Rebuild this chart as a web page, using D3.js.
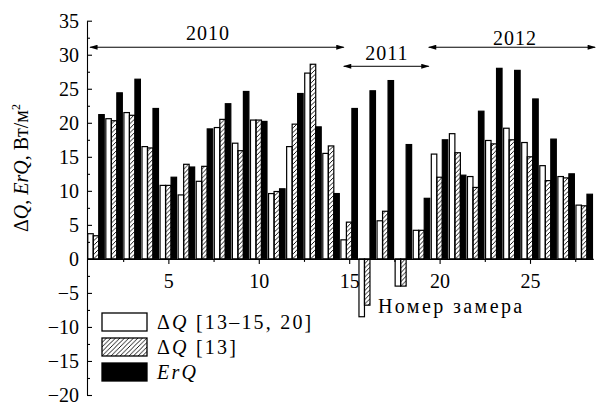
<!DOCTYPE html>
<html>
<head>
<meta charset="utf-8">
<script src="https://cdn.jsdelivr.net/npm/d3@7"></script>
<style>
  body { margin: 0; background: #fff; }
  svg text { font-family: "Liberation Serif", "Times New Roman", Times, Tinos, "DejaVu Serif", "Noto Serif", FreeSerif, serif !important; fill: #000; }
</style>
</head>
<body>
<div id="chart"></div>
<script>
// measurement numbers
const measures = [1, 2, 3, 4, 5, 6, 7, 8, 9, 10, 11, 12, 13, 14, 15, 16, 17, 18, 19, 20, 21, 22, 23, 24, 25, 26, 27, 28];

// ΔQ [13–15, 20] (white bars)
const dQrefs = [3.7, 20.6, 21.5, 16.5, 10.8, 9.4, 11.4, 19.3, 17.0, 20.4, 9.6, 16.5, 27.3, 15.5, 2.8, -8.5, 5.6, -4.0, 4.2, 15.4, 18.4, 12.1, 17.4, 19.2, 17.1, 13.7, 12.1, 7.9];
// ΔQ [13] (hatched bars)
const dQ13 = [3.4, 20.3, 21.1, 16.3, 10.8, 13.9, 13.6, 20.5, 15.9, 20.4, 9.9, 19.8, 28.6, 16.6, 5.4, -6.8, 7.0, -4.0, 4.2, 12.0, 15.6, 10.5, 16.9, 17.5, 15.0, 11.5, 11.9, 7.8];
// ErQ (black bars)
const erQ = [21.2, 24.4, 26.4, 22.1, 12.0, 13.5, 19.1, 22.8, 24.6, 20.2, 10.3, 24.3, 19.4, 9.6, 22.1, 24.7, 26.2, 16.8, 8.9, 17.5, 12.3, 21.7, 28.0, 27.7, 23.5, 17.6, 12.5, 9.5];

const yTicks = [-20, -15, -10, -5, 0, 5, 10, 15, 20, 25, 30, 35];
const xTicks = [5, 10, 15, 20, 25];

// year periods (in measurement numbers / y values)
const years = ["2010", "2011", "2012"];
const yearFrom = [0.67, 14.7, 19.4];
const yearTo = [14.7, 19.4, 28.6];
const yearLevel = [31.1, 28.3, 31.1];

const width = 597, height = 405;

const svg = d3.select("#chart").append("svg")
    .attr("width", width)
    .attr("height", height);

svg.append("rect").attr("width", width).attr("height", height).attr("fill", "#fff");

const x = d3.scaleLinear().domain([0.5, 28.5]).range([87, 593.3]);
const y = d3.scaleLinear().domain([-20, 35]).range([395, 20.7]);

const series = ["a", "b", "c"];
const sub = d3.scaleBand().domain(series).range([-8.3, 8.2]).padding(0);

// hatch pattern
const defs = svg.append("defs");
defs.append("pattern")
    .attr("id", "hatch")
    .attr("patternUnits", "userSpaceOnUse")
    .attr("width", 4.5)
    .attr("height", 4.5)
    .append("path")
    .attr("d", "M-1,1 L1,-1 M0,4.5 L4.5,0 M3.5,5.5 L5.5,3.5")
    .attr("stroke", "#000")
    .attr("stroke-width", 0.9);

defs.append("marker")
    .attr("id", "arrow")
    .attr("viewBox", "0 -3 10 6")
    .attr("refX", 9)
    .attr("refY", 0)
    .attr("markerUnits", "userSpaceOnUse")
    .attr("markerWidth", 9)
    .attr("markerHeight", 5)
    .attr("orient", "auto-start-reverse")
    .append("path")
    .attr("d", "M0,-3L10,0L0,3Z")
    .attr("fill", "#000");

// bars
const rows = measures.map((m, i) => ({ m, a: dQrefs[i], b: dQ13[i], c: erQ[i] }));
const fills = { a: "#fff", b: "url(#hatch)", c: "#000" };

const groups = svg.selectAll(".grp")
    .data(rows)
    .enter()
    .append("g")
    .attr("class", "grp")
    .attr("transform", d => `translate(${x(d.m)},0)`);

groups.selectAll("rect")
    .data(d => series.map(k => ({ k, v: d[k] })))
    .enter()
    .append("rect")
    .attr("x", d => sub(d.k))
    .attr("width", sub.bandwidth())
    .attr("y", d => y(Math.max(0, d.v)))
    .attr("height", d => Math.abs(y(d.v) - y(0)))
    .attr("fill", d => fills[d.k])
    .attr("stroke", "#000")
    .attr("stroke-width", 1.2);

// left axis
svg.append("g")
    .attr("transform", `translate(${x(0.5)},0)`)
    .call(d3.axisLeft(y).tickValues(yTicks).tickSizeInner(-5).tickSizeOuter(0).tickPadding(8));
svg.append("g")
    .attr("transform", `translate(${x(0.5)},0)`)
    .call(d3.axisLeft(y).tickValues(d3.range(-17.5, 35, 5)).tickSizeInner(-3).tickSizeOuter(0).tickFormat(""))
    .select(".domain").remove();

// bottom axis at zero
svg.append("g")
    .attr("transform", `translate(0,${y(0)})`)
    .call(d3.axisBottom(x).tickValues(xTicks).tickSizeInner(5).tickSizeOuter(0).tickPadding(10));
svg.append("g")
    .attr("transform", `translate(0,${y(0)})`)
    .call(d3.axisBottom(x).tickValues(d3.range(2.5, 28, 5)).tickSizeInner(3).tickSizeOuter(0).tickFormat(""))
    .select(".domain").remove();

svg.selectAll("g").attr("font-family", null);
svg.selectAll(".tick text")
    .style("font-size", "20px")
    .attr("fill", "#000");
svg.selectAll(".domain, .tick line").attr("stroke", "#000").attr("stroke-width", 1.1);

// year arrows
years.forEach((yr, i) => {
    svg.append("line")
        .attr("x1", x(yearFrom[i])).attr("x2", x(yearTo[i]))
        .attr("y1", y(yearLevel[i])).attr("y2", y(yearLevel[i]))
        .attr("stroke", "#000")
        .attr("stroke-width", 1)
        .attr("marker-start", "url(#arrow)")
        .attr("marker-end", "url(#arrow)");
});
const yearLabelPos = [[208, 40], [387, 60], [515, 45]];
svg.selectAll(".yr")
    .data(years)
    .enter()
    .append("text")
    .attr("class", "yr")
    .attr("x", (d, i) => yearLabelPos[i][0])
    .attr("y", (d, i) => yearLabelPos[i][1])
    .attr("text-anchor", "middle")
    .style("font-size", "20px")
    .style("letter-spacing", "1px")
    .text(d => d);

// y title
const yTitle = svg.append("text")
    .attr("transform", "translate(28,168) rotate(-90)")
    .attr("text-anchor", "middle")
    .style("font-size", "20px");
[["Δ", false], ["Q", true], [", ", false], ["ErQ", true], [", Вт/м", false]].forEach(p => {
    yTitle.append("tspan").style("font-style", p[1] ? "italic" : "normal").text(p[0]);
});
yTitle.append("tspan").attr("dy", -8).style("font-size", "12px").text("2");

// x title
svg.append("text")
    .attr("x", 378)
    .attr("y", 313)
    .style("font-size", "20px")
    .style("letter-spacing", "2.4px")
    .text("Номер замера");

// legend
const legendParts = [
    [["Δ", false], ["Q", true], [" [13–15, 20]", false]],
    [["Δ", false], ["Q", true], [" [13]", false]],
    [["ErQ", true]]
];
const legend = svg.selectAll(".leg")
    .data(series)
    .enter()
    .append("g")
    .attr("class", "leg")
    .attr("transform", (d, i) => `translate(102,${313 + i * 25})`);
legend.append("rect")
    .attr("width", 45)
    .attr("height", 18)
    .attr("fill", d => fills[d])
    .attr("stroke", "#000")
    .attr("stroke-width", 1.3);
legend.append("text")
    .attr("x", 55)
    .attr("y", 15.5)
    .style("font-size", "20px")
    .style("letter-spacing", "2.2px")
    .each(function(d, i) {
        const t = d3.select(this);
        legendParts[i].forEach(p => {
            t.append("tspan").style("font-style", p[1] ? "italic" : "normal").text(p[0]);
        });
    });
</script>
</body>
</html>
